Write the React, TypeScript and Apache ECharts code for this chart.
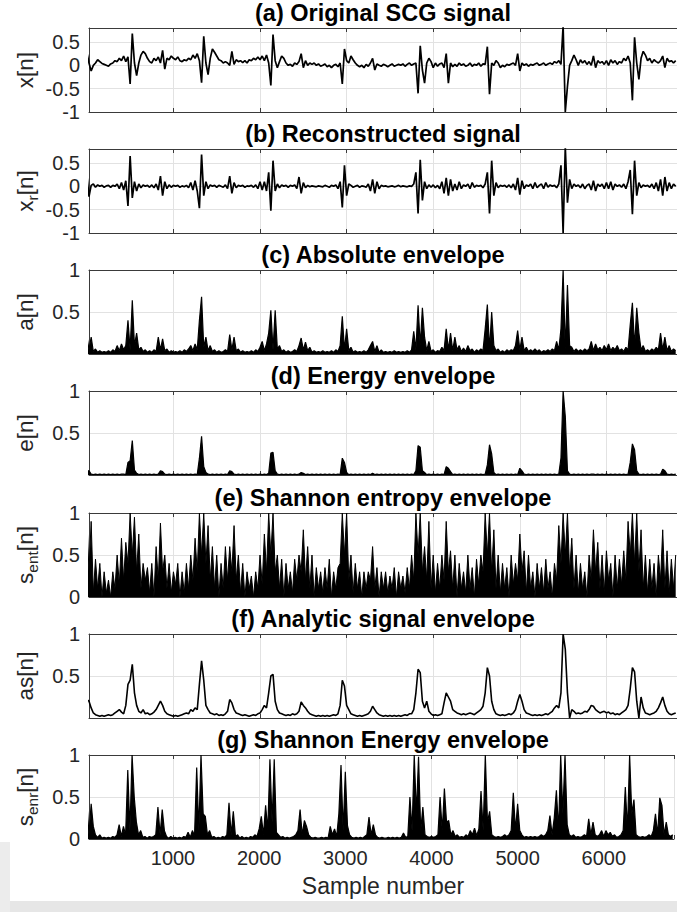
import React, { useEffect, useRef } from 'react';
import * as echarts from 'echarts';

const STEP = 25;
const X_MIN = 25;
const X_MAX = 6815;
const xTickValues = [1000, 2000, 3000, 4000, 5000, 6000];
const ySignedTicks = [-1, -0.5, 0, 0.5];
const yEnvTicks = [0.5, 1];
const yEnvTicksZero = [0, 0.5, 1];

const panelTitles = [
  '(a) Original SCG signal',
  '(b) Reconstructed signal',
  '(c) Absolute envelope',
  '(d) Energy envelope',
  '(e) Shannon entropy envelope',
  '(f) Analytic signal envelope',
  '(g) Shannon Energy envelope',
];
// [main text, subscript, tail]
const panelYLabels: [string, string, string][] = [
  ['x', '', '[n]'],
  ['x', 'r', '[n]'],
  ['a', '', '[n]'],
  ['e', '', '[n]'],
  ['s', 'ent', '[n]'],
  ['as', '', '[n]'],
  ['s', 'enr', '[n]'],
];
const xAxisTitle = 'Sample number';

const originalSCG = [
  0.28, 0.05, -0.12, 0.0, 0.05, 0.12, 0.08, 0.04, 0.02, 0.0,
  -0.02, 0.03, 0.05, 0.1, 0.08, 0.15, 0.1, 0.2, 0.08, 0.18,
  -0.4, 0.68, 0.05, -0.22, 0.05, 0.22, 0.3, 0.25, 0.15, 0.08,
  0.05, 0.15, 0.1, 0.18, 0.05, 0.32, -0.08, 0.15, 0.12, 0.2,
  0.15, 0.12, 0.18, 0.1, 0.08, 0.12, 0.1, 0.15, 0.12, 0.22,
  0.15, 0.25, 0.1, -0.37, 0.62, 0.05, -0.2, 0.15, 0.35, 0.28,
  0.2, 0.12, 0.1, 0.05, 0.08, 0.05, 0.0, 0.3, 0.02, 0.12,
  0.08, 0.1, 0.06, 0.1, 0.05, 0.12, 0.1, 0.15, 0.12, 0.18,
  0.12, 0.2, 0.1, 0.22, 0.05, -0.43, 0.66, 0.1, -0.05, 0.08,
  0.2, 0.15, 0.05, 0.0, 0.02, -0.02, 0.05, 0.02, 0.08, 0.25,
  -0.05, 0.1, 0.0, 0.05, 0.02, 0.05, 0.0, 0.03, -0.02, 0.0,
  0.03, -0.03, 0.0, -0.05, 0.0, 0.02, -0.03, 0.05, -0.4, 0.35,
  0.1, 0.05, 0.2, 0.12, 0.05, 0.0, -0.03, 0.0, -0.05, 0.02,
  -0.02, 0.05, 0.15, -0.1, 0.03, 0.0, -0.02, 0.02, 0.0, -0.03,
  0.0, 0.03, -0.02, 0.0, 0.02, 0.0, 0.03, -0.02, 0.02, 0.05,
  0.0, 0.03, 0.05, -0.6, 0.42, -0.1, -0.38, 0.05, 0.15, 0.08,
  -0.05, 0.05, -0.02, 0.03, 0.05, -0.05, 0.25, -0.38, 0.05, -0.03,
  0.02, -0.02, 0.05, 0.0, 0.03, -0.02, 0.0, 0.05, -0.02, 0.02,
  0.0, 0.05, -0.02, 0.03, 0.02, 0.4, -0.62, 0.05, 0.0, 0.1,
  0.05, -0.05, 0.0, -0.03, 0.02, 0.0, 0.03, 0.05, 0.0, 0.25,
  -0.12, 0.05, 0.0, 0.03, -0.02, 0.02, 0.0, 0.03, 0.05, 0.0,
  0.02, 0.05, 0.0, 0.03, 0.05, 0.02, 0.08, 0.05, 0.1, 0.02,
  0.85, -1.0, -0.45, 0.0, 0.1, 0.22, 0.12, 0.0, 0.12, 0.05,
  0.1, 0.02, 0.08, 0.0, 0.2, -0.05, 0.1, 0.05, 0.08, 0.02,
  0.1, 0.0, 0.12, 0.05, 0.1, 0.02, 0.08, 0.05, 0.15, 0.1,
  0.2, 0.05, -0.75, 0.6, 0.05, -0.3, 0.15, 0.3, 0.22, 0.1,
  0.15, 0.05, 0.12, 0.08, 0.05, 0.1, 0.2, -0.05, 0.15, 0.08,
  0.1, 0.05, 0.1,
];

const reconstructed = [
  0.25, -0.22, 0.02, 0.05, -0.02, 0.03, 0.0, 0.02, -0.02, 0.01,
  0.02, -0.02, 0.02, 0.0, 0.05, -0.05, 0.08, -0.08, 0.12, -0.42,
  0.65, -0.25, 0.1, -0.1, 0.05, -0.03, 0.03, 0.0, 0.02, -0.02,
  0.03, -0.03, 0.05, -0.08, 0.22, -0.2, 0.1, -0.05, 0.03, -0.02,
  0.02, 0.0, 0.02, -0.02, 0.01, -0.01, 0.02, -0.03, 0.08, -0.08,
  0.12, -0.1, -0.47, 0.68, -0.2, 0.1, -0.05, 0.03, 0.0, 0.02,
  -0.02, 0.02, 0.0, -0.02, 0.03, -0.05, 0.22, -0.15, 0.08, -0.03,
  0.02, 0.0, 0.02, -0.02, 0.01, 0.0, 0.02, -0.02, 0.03, -0.05,
  0.1, -0.08, 0.1, -0.1, 0.3, -0.52, 0.55, -0.1, 0.05, -0.03,
  0.03, 0.0, 0.02, -0.02, 0.02, 0.0, 0.03, -0.05, 0.2, -0.15,
  0.08, -0.03, 0.02, -0.01, 0.01, 0.0, -0.01, 0.01, 0.0, -0.01,
  0.02, 0.0, -0.02, 0.02, 0.0, 0.03, -0.05, 0.1, -0.45, 0.45,
  -0.2, 0.05, 0.02, -0.02, 0.0, 0.02, -0.02, 0.01, 0.0, -0.02,
  0.05, -0.1, 0.15, -0.15, 0.1, -0.05, 0.02, 0.0, 0.01, -0.01,
  0.0, 0.01, -0.01, 0.0, 0.02, -0.01, 0.01, 0.0, -0.01, 0.01,
  0.0, 0.05, 0.3, -0.58, 0.57, -0.3, 0.1, -0.05, 0.03, -0.02,
  0.03, -0.03, 0.02, -0.05, 0.1, -0.15, 0.18, -0.2, 0.15, -0.1,
  0.05, -0.08, 0.1, -0.05, 0.03, 0.0, 0.05, -0.05, 0.08, -0.02,
  0.02, 0.0, 0.02, -0.03, 0.05, 0.3, -0.58, 0.55, -0.2, 0.08,
  -0.03, 0.02, 0.0, 0.02, -0.02, 0.03, -0.03, 0.05, -0.08, 0.18,
  -0.18, 0.12, -0.05, 0.03, 0.0, 0.05, -0.05, 0.08, -0.03, 0.02,
  0.05, -0.05, 0.08, -0.02, 0.03, 0.0, 0.02, -0.03, 0.05, 0.45,
  -1.0, 0.85, -0.35, 0.15, -0.05, 0.05, 0.0, 0.03, -0.03, 0.05,
  -0.05, 0.02, 0.05, -0.08, 0.12, -0.1, 0.05, 0.0, 0.05, -0.05,
  0.08, -0.05, 0.1, -0.08, 0.05, 0.0, 0.03, -0.02, 0.05, -0.05,
  0.1, 0.35, -0.6, 0.55, -0.2, 0.08, -0.03, 0.03, 0.0, 0.02,
  -0.02, 0.05, -0.05, 0.08, -0.1, 0.15, -0.2, 0.2, -0.1, 0.08,
  -0.05, 0.05, 0.0,
];

const absoluteEnv = [
  0.22, 0.05, 0.2, 0.03, 0.06, 0.02, 0.04, 0.02, 0.03, 0.02,
  0.04, 0.02, 0.05, 0.03, 0.1, 0.04, 0.12, 0.05, 0.1, 0.4,
  0.05, 0.64, 0.1, 0.25, 0.05, 0.08, 0.03, 0.05, 0.02, 0.04,
  0.02, 0.05, 0.03, 0.2, 0.05, 0.18, 0.04, 0.06, 0.02, 0.04,
  0.02, 0.03, 0.02, 0.04, 0.02, 0.05, 0.03, 0.06, 0.1, 0.04,
  0.12, 0.05, 0.4, 0.68, 0.08, 0.2, 0.04, 0.1, 0.03, 0.05,
  0.02, 0.04, 0.02, 0.03, 0.05, 0.03, 0.23, 0.05, 0.2, 0.04,
  0.06, 0.02, 0.04, 0.02, 0.03, 0.02, 0.04, 0.02, 0.05, 0.03,
  0.08, 0.15, 0.04, 0.12, 0.25, 0.52, 0.05, 0.52, 0.06, 0.1,
  0.03, 0.05, 0.02, 0.04, 0.02, 0.03, 0.05, 0.03, 0.1, 0.19,
  0.05, 0.14, 0.04, 0.08, 0.02, 0.04, 0.02, 0.03, 0.02, 0.04,
  0.02, 0.03, 0.02, 0.04, 0.02, 0.05, 0.03, 0.1, 0.45, 0.05,
  0.3, 0.04, 0.08, 0.02, 0.04, 0.02, 0.03, 0.02, 0.04, 0.02,
  0.05, 0.1, 0.15, 0.03, 0.1, 0.02, 0.05, 0.02, 0.03, 0.02,
  0.03, 0.02, 0.04, 0.02, 0.03, 0.02, 0.03, 0.02, 0.04, 0.02,
  0.05, 0.27, 0.05, 0.58, 0.1, 0.55, 0.2, 0.04, 0.15, 0.03,
  0.05, 0.02, 0.04, 0.03, 0.08, 0.04, 0.3, 0.05, 0.25, 0.04,
  0.2, 0.05, 0.1, 0.03, 0.07, 0.03, 0.1, 0.04, 0.06, 0.02,
  0.05, 0.03, 0.06, 0.04, 0.3, 0.59, 0.05, 0.5, 0.1, 0.04,
  0.06, 0.02, 0.04, 0.02, 0.05, 0.03, 0.05, 0.04, 0.1, 0.28,
  0.05, 0.2, 0.04, 0.08, 0.03, 0.05, 0.03, 0.06, 0.03, 0.05,
  0.02, 0.04, 0.03, 0.05, 0.03, 0.06, 0.04, 0.15, 0.05, 0.3,
  1.0, 0.05, 0.82, 0.1, 0.08, 0.03, 0.06, 0.03, 0.05, 0.03,
  0.06, 0.04, 0.06, 0.15, 0.04, 0.12, 0.05, 0.08, 0.04, 0.1,
  0.05, 0.12, 0.04, 0.08, 0.05, 0.1, 0.04, 0.06, 0.03, 0.08,
  0.05, 0.35, 0.61, 0.08, 0.55, 0.25, 0.05, 0.1, 0.03, 0.05,
  0.03, 0.06, 0.04, 0.08, 0.05, 0.25, 0.05, 0.2, 0.04, 0.1,
  0.03, 0.06, 0.04,
];

const energyEnv = [
  0.05, 0.05, 0.01, 0.005, 0.01, 0.005, 0.01, 0.005, 0.01, 0.005,
  0.01, 0.005, 0.01, 0.005, 0.01, 0.005, 0.01, 0.01, 0.005, 0.15,
  0.17, 0.41, 0.06, 0.02, 0.005, 0.01, 0.005, 0.01, 0.005, 0.01,
  0.005, 0.01, 0.005, 0.01, 0.05, 0.04, 0.01, 0.005, 0.01, 0.005,
  0.01, 0.005, 0.01, 0.005, 0.01, 0.005, 0.01, 0.005, 0.01, 0.005,
  0.01, 0.005, 0.2, 0.46, 0.1, 0.03, 0.01, 0.005, 0.01, 0.005,
  0.01, 0.005, 0.01, 0.005, 0.01, 0.005, 0.05, 0.04, 0.01, 0.005,
  0.01, 0.005, 0.01, 0.005, 0.01, 0.005, 0.01, 0.005, 0.01, 0.005,
  0.01, 0.005, 0.01, 0.005, 0.02, 0.26, 0.27, 0.05, 0.01, 0.005,
  0.01, 0.005, 0.01, 0.005, 0.01, 0.005, 0.01, 0.005, 0.01, 0.03,
  0.02, 0.005, 0.01, 0.005, 0.01, 0.005, 0.01, 0.005, 0.01, 0.005,
  0.01, 0.005, 0.01, 0.005, 0.01, 0.005, 0.01, 0.005, 0.2, 0.15,
  0.03, 0.005, 0.01, 0.005, 0.01, 0.005, 0.01, 0.005, 0.01, 0.005,
  0.01, 0.005, 0.02, 0.005, 0.01, 0.005, 0.01, 0.005, 0.01, 0.005,
  0.01, 0.005, 0.01, 0.005, 0.01, 0.005, 0.01, 0.005, 0.01, 0.005,
  0.01, 0.005, 0.05, 0.35, 0.33, 0.05, 0.03, 0.005, 0.01, 0.005,
  0.01, 0.005, 0.01, 0.005, 0.01, 0.005, 0.1, 0.08, 0.04, 0.005,
  0.01, 0.005, 0.01, 0.005, 0.01, 0.005, 0.01, 0.005, 0.01, 0.005,
  0.01, 0.005, 0.01, 0.005, 0.01, 0.12, 0.36, 0.25, 0.03, 0.005,
  0.01, 0.005, 0.01, 0.005, 0.01, 0.005, 0.01, 0.005, 0.01, 0.005,
  0.08, 0.05, 0.01, 0.005, 0.01, 0.005, 0.01, 0.005, 0.01, 0.005,
  0.01, 0.005, 0.01, 0.005, 0.01, 0.005, 0.01, 0.005, 0.01, 0.2,
  1.0, 0.7, 0.05, 0.01, 0.005, 0.01, 0.005, 0.01, 0.005, 0.01,
  0.005, 0.01, 0.005, 0.01, 0.01, 0.005, 0.01, 0.005, 0.01, 0.005,
  0.01, 0.005, 0.01, 0.005, 0.01, 0.005, 0.01, 0.005, 0.01, 0.005,
  0.01, 0.15, 0.37, 0.3, 0.05, 0.01, 0.005, 0.01, 0.005, 0.01,
  0.005, 0.01, 0.005, 0.01, 0.005, 0.01, 0.07, 0.05, 0.01, 0.005,
  0.01, 0.005, 0.01,
];

const shannonEntropyEnv = [
  0.95, 0.3, 0.9, 0.05, 0.45, 0.1, 0.4, 0.0, 0.3, 0.05,
  0.2, 0.0, 0.3, 0.1, 0.5, 0.15, 0.7, 0.2, 0.65, 0.4,
  1.0, 0.5, 0.95, 0.3, 0.75, 0.1, 0.4, 0.2, 0.35, 0.05,
  0.4, 0.0, 0.6, 0.2, 0.88, 0.3, 0.5, 0.1, 0.4, 0.05,
  0.3, 0.15, 0.4, 0.0, 0.3, 0.05, 0.4, 0.1, 0.5, 0.2,
  0.7, 0.3, 1.0, 0.5, 1.0, 0.4, 0.85, 0.2, 0.6, 0.1,
  0.5, 0.0, 0.4, 0.1, 0.6, 0.2, 0.6, 0.3, 0.85, 0.2,
  0.5, 0.05, 0.4, 0.0, 0.3, 0.1, 0.25, 0.0, 0.3, 0.1,
  0.5, 0.15, 0.75, 0.3, 1.0, 0.5, 1.0, 0.3, 0.5, 0.1,
  0.45, 0.0, 0.4, 0.1, 0.3, 0.05, 0.45, 0.2, 0.5, 0.3,
  0.8, 0.2, 0.6, 0.1, 0.5, 0.0, 0.35, 0.1, 0.3, 0.05,
  0.35, 0.1, 0.45, 0.0, 0.3, 0.1, 0.35, 0.4, 1.0, 0.5,
  1.0, 0.2, 0.5, 0.05, 0.4, 0.1, 0.3, 0.0, 0.3, 0.1,
  0.3, 0.2, 0.6, 0.1, 0.35, 0.0, 0.3, 0.1, 0.3, 0.05,
  0.25, 0.1, 0.35, 0.0, 0.3, 0.1, 0.25, 0.05, 0.35, 0.1,
  0.5, 0.2, 1.0, 0.5, 1.0, 0.3, 0.6, 0.2, 0.9, 0.1,
  0.5, 0.05, 0.4, 0.1, 0.5, 0.2, 0.9, 0.3, 0.55, 0.1,
  0.5, 0.0, 0.4, 0.1, 0.3, 0.05, 0.5, 0.1, 0.35, 0.0,
  0.45, 0.15, 0.5, 0.3, 1.0, 0.5, 1.0, 0.3, 0.8, 0.1,
  0.5, 0.05, 0.4, 0.1, 0.35, 0.0, 0.5, 0.15, 0.4, 0.2,
  0.75, 0.3, 0.55, 0.05, 0.5, 0.1, 0.3, 0.0, 0.4, 0.1,
  0.35, 0.05, 0.45, 0.1, 0.3, 0.0, 0.4, 0.2, 0.85, 0.4,
  1.0, 0.5, 1.0, 0.3, 0.7, 0.1, 0.5, 0.05, 0.4, 0.1,
  0.3, 0.0, 0.5, 0.2, 0.8, 0.3, 0.65, 0.1, 0.5, 0.05,
  0.55, 0.2, 0.4, 0.0, 0.5, 0.1, 0.45, 0.15, 0.55, 0.2,
  0.9, 0.5, 1.0, 0.4, 1.0, 0.3, 0.8, 0.1, 0.5, 0.05,
  0.45, 0.1, 0.4, 0.0, 0.5, 0.2, 0.8, 0.1, 0.55, 0.05,
  0.45, 0.1, 0.5,
];

const analyticEnv = [
  0.22, 0.2, 0.12, 0.06, 0.04, 0.03, 0.02, 0.03, 0.02, 0.03,
  0.04, 0.03, 0.04, 0.06, 0.08, 0.1, 0.07, 0.05, 0.15, 0.4,
  0.45, 0.64, 0.3, 0.15, 0.08, 0.06, 0.1, 0.05, 0.06, 0.04,
  0.05, 0.07, 0.1, 0.15, 0.2, 0.15, 0.08, 0.05, 0.04, 0.03,
  0.02, 0.03, 0.02, 0.03, 0.04, 0.05, 0.06, 0.05, 0.1, 0.08,
  0.12, 0.1, 0.4, 0.68, 0.45, 0.15, 0.1, 0.06, 0.05, 0.04,
  0.05, 0.03, 0.04, 0.03, 0.05, 0.08, 0.22, 0.18, 0.1, 0.06,
  0.05, 0.04, 0.03, 0.04, 0.03, 0.02, 0.03, 0.04, 0.03, 0.05,
  0.06, 0.1, 0.15, 0.12, 0.3, 0.5, 0.52, 0.2, 0.1, 0.06,
  0.05, 0.04, 0.03, 0.04, 0.03, 0.05, 0.04, 0.05, 0.08, 0.19,
  0.15, 0.12, 0.08, 0.05, 0.04, 0.03, 0.02, 0.03, 0.02, 0.03,
  0.02, 0.03, 0.02, 0.03, 0.04, 0.03, 0.05, 0.15, 0.45, 0.38,
  0.15, 0.1, 0.05, 0.04, 0.03, 0.02, 0.03, 0.02, 0.03, 0.04,
  0.05, 0.08, 0.14, 0.1, 0.06, 0.04, 0.03, 0.02, 0.03, 0.02,
  0.03, 0.02, 0.03, 0.02, 0.03, 0.02, 0.03, 0.04, 0.03, 0.05,
  0.05, 0.1, 0.3, 0.58, 0.54, 0.2, 0.12, 0.2, 0.08, 0.05,
  0.03, 0.04, 0.03, 0.04, 0.05, 0.18, 0.3, 0.25, 0.2, 0.1,
  0.08, 0.06, 0.05, 0.04, 0.05, 0.04, 0.05, 0.06, 0.05, 0.04,
  0.06, 0.08, 0.1, 0.14, 0.3, 0.6, 0.5, 0.2, 0.1, 0.05,
  0.04, 0.03, 0.04, 0.03, 0.04, 0.05, 0.04, 0.06, 0.1, 0.2,
  0.28, 0.2, 0.1, 0.06, 0.05, 0.04, 0.03, 0.04, 0.03, 0.04,
  0.03, 0.04, 0.05, 0.04, 0.06, 0.08, 0.12, 0.15, 0.12, 0.3,
  1.0, 0.82, 0.3, 0.0, 0.1, 0.08, 0.05, 0.06, 0.05, 0.06,
  0.08, 0.07, 0.1, 0.15, 0.14, 0.1, 0.08, 0.06, 0.07, 0.08,
  0.06, 0.07, 0.05, 0.06, 0.04, 0.05, 0.04, 0.06, 0.08, 0.1,
  0.15, 0.35, 0.6, 0.55, 0.2, 0.0, 0.25, 0.12, 0.06, 0.05,
  0.04, 0.05, 0.06, 0.08, 0.12, 0.18, 0.25, 0.15, 0.08, 0.05,
  0.04, 0.05, 0.06,
];

const shannonEnergyEnv = [
  0.44, 0.05, 0.42, 0.15, 0.05, 0.02, 0.05, 0.01, 0.02, 0.01,
  0.02, 0.01, 0.03, 0.02, 0.05, 0.17, 0.03, 0.15, 0.05, 0.82,
  0.1, 1.0, 0.5, 0.2, 0.05, 0.1, 0.02, 0.03, 0.01, 0.03,
  0.02, 0.03, 0.05, 0.38, 0.05, 0.35, 0.1, 0.03, 0.01, 0.03,
  0.01, 0.02, 0.01, 0.02, 0.01, 0.03, 0.02, 0.08, 0.02, 0.1,
  0.04, 0.85, 0.1, 1.0, 0.3, 0.27, 0.05, 0.1, 0.02, 0.03,
  0.01, 0.02, 0.01, 0.03, 0.02, 0.05, 0.43, 0.05, 0.33, 0.03,
  0.05, 0.01, 0.03, 0.01, 0.02, 0.01, 0.03, 0.02, 0.05, 0.03,
  0.12, 0.27, 0.05, 0.4, 0.1, 0.95, 0.2, 0.95, 0.08, 0.05,
  0.02, 0.03, 0.01, 0.02, 0.01, 0.02, 0.03, 0.05, 0.1, 0.35,
  0.05, 0.22, 0.15, 0.05, 0.02, 0.01, 0.02, 0.01, 0.01, 0.02,
  0.01, 0.02, 0.01, 0.15, 0.05, 0.12, 0.03, 0.3, 0.88, 0.1,
  0.8, 0.16, 0.05, 0.02, 0.01, 0.02, 0.01, 0.02, 0.01, 0.03,
  0.05, 0.26, 0.05, 0.17, 0.05, 0.02, 0.01, 0.02, 0.01, 0.01,
  0.02, 0.01, 0.02, 0.01, 0.02, 0.01, 0.02, 0.07, 0.02, 0.03,
  0.5, 0.1, 1.0, 0.3, 0.98, 0.1, 0.38, 0.05, 0.03, 0.02,
  0.03, 0.02, 0.03, 0.05, 0.5, 0.1, 0.6, 0.2, 0.22, 0.05,
  0.1, 0.03, 0.05, 0.02, 0.03, 0.02, 0.05, 0.03, 0.1, 0.05,
  0.13, 0.04, 0.12, 0.57, 0.1, 1.0, 0.2, 0.33, 0.05, 0.03,
  0.02, 0.03, 0.02, 0.03, 0.05, 0.03, 0.05, 0.1, 0.55, 0.1,
  0.42, 0.1, 0.05, 0.02, 0.03, 0.02, 0.03, 0.02, 0.03, 0.02,
  0.03, 0.05, 0.03, 0.05, 0.1, 0.28, 0.05, 0.25, 0.58, 0.1,
  1.0, 0.3, 1.0, 0.17, 0.05, 0.03, 0.05, 0.02, 0.03, 0.02,
  0.03, 0.05, 0.03, 0.24, 0.05, 0.2, 0.05, 0.03, 0.05, 0.1,
  0.03, 0.1, 0.05, 0.08, 0.03, 0.05, 0.02, 0.03, 0.05, 0.1,
  0.62, 0.1, 1.0, 0.3, 0.47, 0.05, 0.03, 0.02, 0.03, 0.02,
  0.03, 0.05, 0.03, 0.1, 0.3, 0.05, 0.49, 0.4, 0.05, 0.2,
  0.05, 0.03, 0.05,
];

const panelSeries = [
  originalSCG,
  reconstructed,
  absoluteEnv,
  energyEnv,
  shannonEntropyEnv,
  analyticEnv,
  shannonEnergyEnv,
];
// panels whose dense trace reads as a filled black mass in the original
const filledPanels = [false, false, true, true, true, false, true];

const FONT = 'Liberation Sans, Arial, Helvetica, sans-serif';
const TEXT = '#262626';
const GRID = '#e2e2e2';
const AXIS = '#3a3a3a';
const LEFT = 89;
const PANEL_H = 84;
const PANEL_TOPS = [28, 149, 270, 391, 513, 634, 755];
const CENTER_X = 383;

function yConfig(i: number) {
  if (i < 2) return { min: -1, max: 0.8, ticks: ySignedTicks };
  if (i === 4 || i === 6) return { min: 0, max: 1, ticks: yEnvTicksZero };
  return { min: 0, max: 1, ticks: yEnvTicks };
}

function buildOption() {
  const grids = PANEL_TOPS.map((t) => ({ left: LEFT, right: 0, top: t, height: PANEL_H }));
  const bottomX = PANEL_TOPS.map((_, i) => ({
    type: 'value',
    gridIndex: i,
    min: X_MIN,
    max: X_MAX,
    minInterval: 1000,
    maxInterval: 1000,
    axisLine: { show: true, onZero: false, lineStyle: { color: AXIS, width: 1 } },
    axisTick: { show: true, inside: true, length: 4, lineStyle: { color: AXIS } },
    axisLabel: {
      show: i === 6,
      color: TEXT,
      fontSize: 20,
      fontFamily: FONT,
      margin: 9,
      formatter: (v: number) => (xTickValues.includes(v) ? String(v) : ''),
    },
    splitLine: { show: true, lineStyle: { color: GRID, width: 1 } },
  }));
  const topX = PANEL_TOPS.map((_, i) => ({
    type: 'value',
    gridIndex: i,
    position: 'top',
    min: X_MIN,
    max: X_MAX,
    minInterval: 1000,
    maxInterval: 1000,
    axisLine: { show: true, onZero: false, lineStyle: { color: AXIS, width: 1 } },
    axisTick: { show: true, inside: true, length: 4, lineStyle: { color: AXIS } },
    axisLabel: { show: false },
    splitLine: { show: false },
  }));
  const yAxes = PANEL_TOPS.map((_, i) => {
    const c = yConfig(i);
    return {
      type: 'value',
      gridIndex: i,
      min: c.min,
      max: c.max,
      interval: 0.5,
      axisLine: { show: true, onZero: false, lineStyle: { color: AXIS, width: 1 } },
      axisTick: { show: false },
      axisLabel: {
        color: TEXT,
        fontSize: 20,
        fontFamily: FONT,
        margin: 9,
        formatter: (v: number) => (c.ticks.some((t) => Math.abs(t - v) < 1e-9) ? String(v) : ''),
      },
      splitLine: { show: true, lineStyle: { color: GRID, width: 1 } },
    };
  });
  const widths = [1.7, 1.7, 1.2, 1.2, 1.0, 1.6, 1.2];
  const series = panelSeries.map((vals, i) => ({
    type: 'line',
    xAxisIndex: i,
    yAxisIndex: i,
    data: vals.map((v, k) => [k * STEP, v]),
    symbol: 'none',
    showSymbol: false,
    silent: true,
    clip: true,
    lineStyle: { color: '#000', width: widths[i] },
    areaStyle: filledPanels[i] ? { color: '#000', opacity: 1, origin: 'start' } : undefined,
    z: 3,
  }));

  const graphics: any[] = [];
  // light grey background marks of the page
  graphics.push({ type: 'rect', shape: { x: 0, y: 901, width: 677, height: 11 }, style: { fill: '#e6e6e6' }, z: -10, silent: true });
  graphics.push({ type: 'rect', shape: { x: 0, y: 842, width: 10, height: 70 }, style: { fill: '#ececec' }, z: -10, silent: true });

  PANEL_TOPS.forEach((t, i) => {
    graphics.push({
      type: 'text',
      x: CENTER_X,
      y: t - 15,
      silent: true,
      style: {
        text: panelTitles[i],
        fontSize: 23.5,
        fontWeight: 'bold',
        fontFamily: FONT,
        fill: '#000',
        align: 'center',
        verticalAlign: 'middle',
        textAlign: 'center',
        textVerticalAlign: 'middle',
      },
    });
    const [main, sub, tail] = panelYLabels[i];
    const txt = sub ? `{m|${main}}{s|${sub}}{m|${tail}}` : `{m|${main}${tail}}`;
    graphics.push({
      type: 'text',
      x: 25,
      y: t + PANEL_H / 2,
      rotation: Math.PI / 2,
      silent: true,
      style: {
        text: txt,
        align: 'center',
        verticalAlign: 'middle',
        textAlign: 'center',
        textVerticalAlign: 'middle',
        rich: {
          m: { fontSize: 22.5, fontFamily: FONT, fill: TEXT },
          s: { fontSize: 15.5, fontFamily: FONT, fill: TEXT, padding: [15, 0, 0, 0] },
        },
      },
    });
  });
  graphics.push({
    type: 'text',
    x: CENTER_X,
    y: 886,
    silent: true,
    style: {
      text: xAxisTitle,
      fontSize: 23,
      fontFamily: FONT,
      fill: TEXT,
      align: 'center',
      verticalAlign: 'middle',
      textAlign: 'center',
      textVerticalAlign: 'middle',
    },
  });

  return {
    animation: false,
    backgroundColor: '#ffffff',
    grid: grids,
    xAxis: [...bottomX, ...topX],
    yAxis: yAxes,
    series,
    graphic: graphics,
  };
}

export default function App() {
  const ref = useRef<HTMLDivElement>(null);
  useEffect(() => {
    document.body.style.margin = '0';
    if (!ref.current) return;
    const chart = echarts.init(ref.current, null, { renderer: 'svg' });
    chart.setOption(buildOption() as any);
    return () => chart.dispose();
  }, []);
  return (
    <div
      ref={ref}
      style={{ position: 'absolute', left: 0, top: 0, width: 677, height: 912, background: '#fff' }}
    />
  );
}
